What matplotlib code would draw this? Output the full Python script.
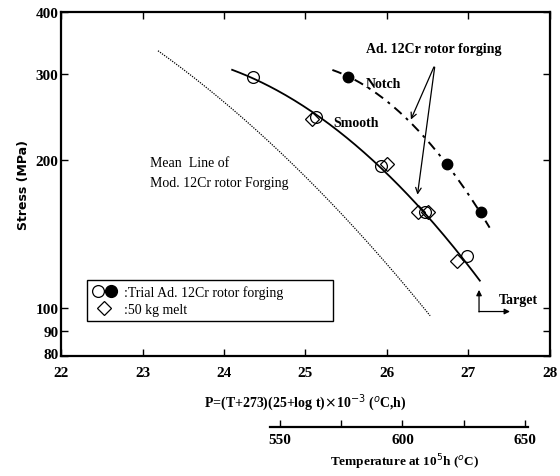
import numpy as np
import matplotlib.pyplot as plt
import matplotlib.transforms as mtransforms
from matplotlib.lines import Line2D
from matplotlib.legend_handler import HandlerTuple

plt.rcParams['font.family'] = ['Liberation Serif', 'DejaVu Serif']

# --- data ---
# smooth rupture curve, Ad. 12Cr rotor forging
smooth_P = [24.10, 24.36, 24.69, 25.12, 25.79, 25.95, 26.20, 26.44, 26.69, 26.92, 27.14]
smooth_S = [308, 295, 270, 244, 204, 195, 175, 157, 140, 127, 113.6]

# notch curve (dash-dot)
notch_P = [25.33, 25.52, 26.28, 26.74, 27.15, 27.26]
notch_S = [306, 295, 239, 196, 157, 145]

# mean line of Mod. 12Cr rotor forging (dotted)
mean_P = [23.19, 23.95, 24.56, 24.69, 25.30, 26.04, 26.53]
mean_S = [331, 266, 221, 214, 159, 118, 98.7]

# trial forging, smooth specimens (open circles)
trial_P = [24.36, 25.13, 25.93, 26.47, 26.98]
trial_S = [295, 245, 195, 157, 128]
# trial forging, notched specimens (filled circles)
notchpts_P = [25.52, 26.74, 27.15]
notchpts_S = [295, 196, 157]
# 50 kg melt (diamonds)
melt_P = [25.08, 26.00, 26.38, 26.50, 26.86]
melt_S = [243, 196, 157, 157, 125]

yticks = [80, 90, 100, 200, 300, 400]
xticks = [22, 23, 24, 25, 26, 27, 28]
temp_major = [550, 600, 650]
temp_minor = [575, 625]


def P_to_T(P):
    return np.asarray(P) / 0.03 - 273


def smooth_curve(P, S, deg=2):
    # draw the read-off curve as a smooth quadratic in log(stress)
    c = np.polyfit(P, np.log10(S), deg)
    pp = np.linspace(min(P), max(P), 200)
    return pp, 10 ** np.polyval(c, pp)


fig = plt.figure(figsize=(5.6, 4.77), dpi=100)
ax = fig.add_axes([0.109, 0.2516, 0.873, 0.7211])

ax.plot(*smooth_curve(smooth_P, smooth_S), color='black', lw=1.3)
ax.plot(*smooth_curve(notch_P, notch_S), color='black', lw=1.4,
        ls=(0, (5, 3, 1.5, 3)))
ax.plot(*smooth_curve(mean_P, mean_S), color='black', lw=0.9, ls=(0, (1, 1)))

ax.plot(melt_P, melt_S, 'D', ms=7, mfc='none', mec='black', mew=0.9)
ax.plot(trial_P, trial_S, 'o', ms=8.5, mfc='none', mec='black', mew=0.9)
ax.plot(notchpts_P, notchpts_S, 'o', ms=7.5, color='black')

ax.set_yscale('log')
ax.set_xlim(22, 28)
ax.set_ylim(80, 400)
ax.set_yticks(yticks)
ax.set_yticklabels([str(v) for v in yticks])
ax.yaxis.set_minor_locator(plt.NullLocator())
ax.set_xticks(xticks)
ax.tick_params(direction='in', top=True, right=True, length=5, width=1,
               labelsize=11)
ax.tick_params(axis='x', pad=7)
ax.tick_params(axis='y', pad=2)
for lab in ax.get_xticklabels() + ax.get_yticklabels():
    lab.set_fontweight('bold')
# lift the "80" label a little so it clears the "22"
lab80 = ax.get_yticklabels()[0]
lab80.set_transform(lab80.get_transform() +
                    mtransforms.ScaledTranslation(0, 2 / 72, fig.dpi_scale_trans))
for s in ax.spines.values():
    s.set_linewidth(1.6)

ax.set_ylabel('Stress (MPa)', family='DejaVu Sans', fontsize=9,
              fontweight='bold', labelpad=4)

# annotations
ax.text(25.74, 338, 'Ad. 12Cr rotor forging', fontsize=10, fontweight='bold',
        va='center')
ax.annotate('', xy=(26.28, 239), xytext=(26.59, 313),
            arrowprops=dict(arrowstyle='->', color='black', lw=0.9))
ax.annotate('', xy=(26.37, 168), xytext=(26.59, 313),
            arrowprops=dict(arrowstyle='->', color='black', lw=0.9))
ax.text(25.74, 286, 'Notch', fontsize=10, fontweight='bold', va='center')
ax.text(25.34, 238, 'Smooth', fontsize=10, fontweight='bold', va='center')
ax.text(23.09, 198, 'Mean  Line of', fontsize=10, va='center')
ax.text(23.09, 180, 'Mod. 12Cr rotor Forging', fontsize=10, va='center')

# target marker
ax.annotate('', xy=(27.13, 109), xytext=(27.13, 98.3),
            arrowprops=dict(arrowstyle='-|>', color='black', lw=0.9,
                            mutation_scale=8, shrinkA=0, shrinkB=0))
ax.annotate('', xy=(27.51, 98.5), xytext=(27.13, 98.5),
            arrowprops=dict(arrowstyle='-|>', color='black', lw=0.9,
                            mutation_scale=8, shrinkA=0, shrinkB=0))
ax.text(27.37, 104.4, 'Target', fontsize=10, fontweight='bold', va='center')

# legend
h_open = Line2D([], [], marker='o', ls='none', ms=8.5, mfc='none', mec='black', mew=0.9)
h_fill = Line2D([], [], marker='o', ls='none', ms=8.5, color='black')
h_dia = Line2D([], [], marker='D', ls='none', ms=7, mfc='none', mec='black', mew=0.9)
leg = ax.legend([(h_open, h_fill), h_dia],
                [':Trial Ad. 12Cr rotor forging', ':50 kg melt'],
                handler_map={tuple: HandlerTuple(ndivide=None, pad=0)},
                loc='lower left', bbox_to_anchor=(0.053, 0.102, 0.503, 0.142),
                mode='expand', borderaxespad=0, fancybox=False, framealpha=1,
                edgecolor='black', fontsize=10, handlelength=1.8,
                handletextpad=0.5, labelspacing=0.3, borderpad=0.35)
leg.get_frame().set_linewidth(1.0)

fig.text(0.545, 0.157, r'P=(T+273)(25+log t)$\times$10$^{-3}$ ($^o$C,h)',
         ha='center', va='center', fontsize=10, fontweight='bold')

# temperature scale at 10^5 h
x0_pix, x1_pix = 270, 528
P0 = 22 + (x0_pix - 61) / 81.5
P1 = 22 + (x1_pix - 61) / 81.5
tax = fig.add_axes([x0_pix / 560, 0.1027, (x1_pix - x0_pix) / 560, 0.05])
tax.set_xlim(P_to_T(P0), P_to_T(P1))
tax.set_ylim(0, 1)
for k in ['top', 'left', 'right']:
    tax.spines[k].set_visible(False)
tax.spines['bottom'].set_linewidth(1.6)
tax.patch.set_alpha(0)
tax.set_yticks([])
tax.set_xticks(temp_major)
tax.set_xticks(temp_minor, minor=True)
tax.tick_params(axis='x', which='both', direction='in', length=5, width=1,
                labelsize=11, pad=4)
for lab in tax.get_xticklabels():
    lab.set_fontweight('bold')

fig.text(x0_pix / 560 + 0.01 + (x1_pix - x0_pix) / 1120, 0.032,
         r'Temperature at 10$^5$h ($^o$C)', ha='center', va='center',
         fontsize=9.5, fontweight='bold')

fig.savefig('out.png', dpi=100)
